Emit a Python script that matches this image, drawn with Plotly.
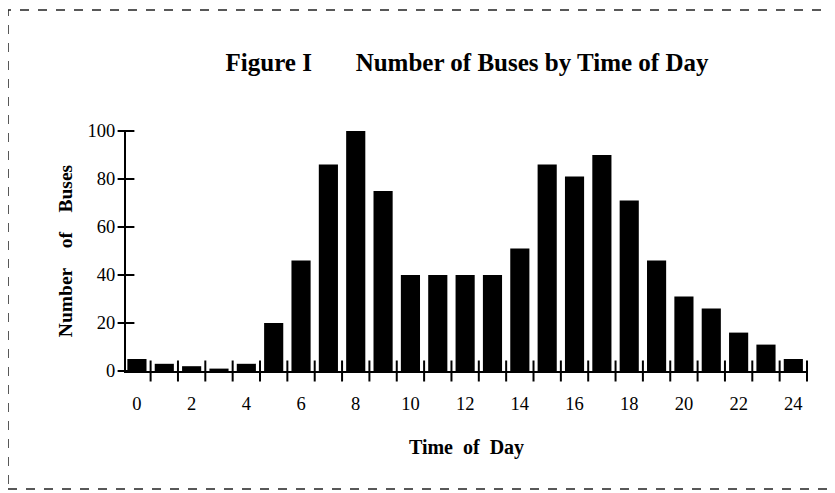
import plotly.graph_objects as go

# ---- data ----
hours = list(range(0, 25))
buses = [5, 3, 2, 1, 3, 20, 46, 86, 101, 75, 40, 40, 40, 40, 51, 86, 81, 90, 71, 46, 31, 26, 16, 11, 5]
x_tick_vals = [0, 2, 4, 6, 8, 10, 12, 14, 16, 18, 20, 22, 24]
x_tick_text = ["0", "2", "4", "6", "8", "10", "12", "14", "16", "18", "20", "22", "24"]
y_tick_vals = [0, 20, 40, 60, 80, 100]
y_tick_text = ["0", "20", "40", "60", "80", "100"]

NB = "&nbsp;"
title_text = "Figure I" + NB * 7 + "Number of Buses by Time of Day"
x_title = "Time" + NB * 2 + "of" + NB * 2 + "Day"
y_title = "Number" + NB * 4 + "of" + NB * 4 + "Buses"

X_MIN, X_MAX = -0.4, 24.5
Y_MIN, Y_MAX = 0, 100

SERIF = "Liberation Serif, Times New Roman, serif"

# page body has an 8px margin; figure pixel coords below are page coords - 8
OFF = 8
L, R, T, B = 126 - OFF, 28 + OFF, 131 - OFF, 122 + OFF
PW = 835 - L - R
PH = 493 - T - B

fig = go.Figure()

fig.add_trace(go.Bar(
    x=hours, y=buses, width=0.7,
    marker=dict(color="black", line=dict(width=0)),
    hoverinfo="x+y",
))

# crossing tick marks on the x axis (between bars)
fig.add_trace(go.Scatter(
    x=[h + 0.5 for h in hours], y=[0] * len(hours),
    mode="markers",
    marker=dict(symbol="line-ns", size=15, line=dict(width=2, color="black")),
    cliponaxis=False, hoverinfo="skip", showlegend=False,
))
# crossing tick marks on the y axis
fig.add_trace(go.Scatter(
    x=[X_MIN] * len(y_tick_vals), y=y_tick_vals,
    mode="markers",
    marker=dict(symbol="line-ew", size=12, line=dict(width=2, color="black")),
    cliponaxis=False, hoverinfo="skip", showlegend=False,
))

fig.update_layout(
    width=835, height=493,
    margin=dict(l=L, r=R, t=T, b=B, autoexpand=False),
    paper_bgcolor="white", plot_bgcolor="white",
    showlegend=False,
    font=dict(family=SERIF, color="black", size=18),
    title=dict(
        text="<b>" + title_text + "</b>",
        x=(467 - OFF) / 835, xanchor="center",
        y=1 - (62 - OFF) / 493, yanchor="middle",
        font=dict(family=SERIF, size=25, color="black"),
    ),
    xaxis=dict(
        range=[X_MIN, X_MAX],
        tickmode="array", tickvals=x_tick_vals, ticktext=x_tick_text,
        ticks="", showgrid=False, zeroline=False,
        showline=True, linecolor="black", linewidth=2,
        ticklabelstandoff=15,
        tickfont=dict(family=SERIF, size=18.5),
        title=dict(text="<b>" + x_title + "</b>", standoff=27,
                   font=dict(family=SERIF, size=20)),
    ),
    yaxis=dict(
        range=[Y_MIN, Y_MAX],
        tickmode="array", tickvals=y_tick_vals, ticktext=y_tick_text,
        ticks="", showgrid=False, zeroline=False,
        showline=True, linecolor="black", linewidth=2,
        ticklabelstandoff=5,
        tickfont=dict(family=SERIF, size=18.5),
        title=dict(text="<b>" + y_title + "</b>", standoff=10,
                   font=dict(family=SERIF, size=19.5)),
    ),
    shapes=[dict(
        type="rect", xref="paper", yref="paper",
        x0=(8 - OFF - L) / PW, x1=(850 - OFF - L) / PW,
        y0=(T + PH - (489 - OFF)) / PH, y1=(T + PH - (10 - OFF)) / PH,
        line=dict(color="#222222", width=1.5, dash="dash"),
        layer="below",
    )],
)

fig.write_html("out.html")
